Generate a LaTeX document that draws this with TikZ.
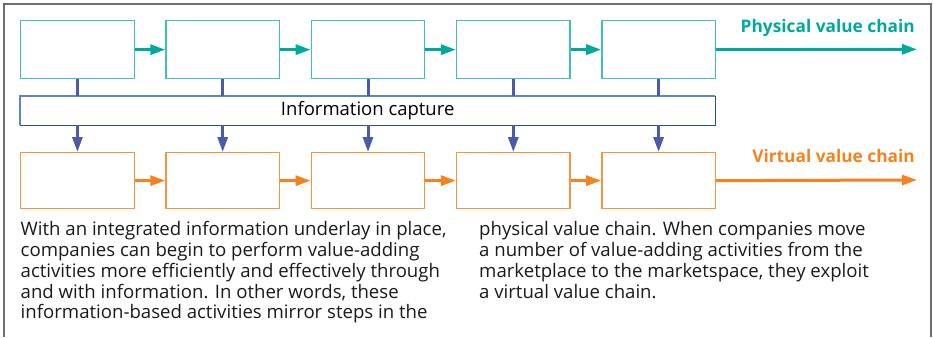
\documentclass[tikz,border=0pt]{standalone}
\usepackage{fontspec}
\setmainfont{Open Sans}
\usetikzlibrary{arrows.meta,calc}
\definecolor{frame}{HTML}{6E6E6E}
\definecolor{tealbox}{HTML}{3FC1B5}
\definecolor{tealline}{HTML}{00A99D}
\definecolor{orangebox}{HTML}{F7943F}
\definecolor{orangeline}{HTML}{F5821F}
\definecolor{bluelink}{HTML}{4A5BAA}
\definecolor{bluelight}{HTML}{5A86C6}
\definecolor{bluedark}{HTML}{2A4D9E}
\definecolor{bodytext}{HTML}{1A1A1A}
\tikzset{
  physbox/.style={draw=tealbox, line width=1.3pt, minimum width=113.5pt, minimum height=58pt, anchor=north west, inner sep=0pt},
  virtbox/.style={draw=orangebox, line width=1.3pt, minimum width=113.5pt, minimum height=56pt, anchor=north west, inner sep=0pt},
  physarrow/.style={tealline, line width=3pt, -{Triangle[length=15pt,width=10pt]}},
  virtarrow/.style={orangeline, line width=3pt, -{Triangle[length=15pt,width=10pt]}},
  infolink/.style={bluelink, line width=3pt},
  infoarrow/.style={bluelink, line width=3pt, -{Triangle[length=15pt,width=10pt]}},
  chainlabel/.style={font=\fontsize{17.3}{20}\selectfont\bfseries, anchor=base east, inner sep=0pt},
  bodycol/.style={font=\fontsize{18.6}{20.75}\selectfont, text=bodytext, align=left, anchor=north west, inner sep=0pt},
}
\begin{document}
\begin{tikzpicture}[x=1pt, y=-1pt]
\useasboundingbox (0,0) rectangle (933,337);
% outer frame, open at the bottom
\draw[frame, line width=2pt] (4,337) -- (4,4) -- (931,4) -- (931,337);

% physical and virtual value chains
\foreach \i/\x in {1/20,2/165.3,3/310.6,4/455.9,5/601.2} {
  \node[physbox] (p\i) at (\x,20) {};
  \node[virtbox] (v\i) at (\x,152) {};
}
\coordinate (pend) at (917,49.3);
\coordinate (vend) at (917,180);
\foreach \a/\b in {1/2,2/3,3/4,4/5} {
  \draw[physarrow] (p\a.east) -- (p\b.west);
  \draw[virtarrow] (v\a.east) -- (v\b.west);
}
\draw[physarrow] (p5.east) -- (pend);
\draw[virtarrow] (v5.east) -- (vend);

% information capture layer
\node[minimum width=695pt, minimum height=29pt, anchor=north west, inner sep=0pt,
      font=\fontsize{18.5}{20}\selectfont] (info) at (20,96) {Information capture};
\draw[bluelight, line width=1.3pt] (info.south west) -- (info.north west) -- (info.north east);
\draw[bluedark, line width=1.3pt] (info.north east) -- (info.south east) -- (info.south west);

\foreach \i in {1,...,5} {
  \draw[infolink] (p\i.south) -- (p\i.south |- info.north);
  \draw[infoarrow] (v\i.north |- info.south) -- (v\i.north);
}

% chain labels
\node[chainlabel, text=tealline] (plabel) at (915,33) {Physical value chain};
\node[chainlabel, text=orangeline] (vlabel) at (915,162.5) {Virtual value chain};

% body text in two columns
\node[bodycol] (colA) at (20.5,221.5) {With an integrated information underlay in place,\\
companies can begin to perform value-adding\\
activities more efficiently and effectively through\\
and with information. In other words, these\\
information-based activities mirror steps in the};
\node[bodycol] (colB) at (479,221.5) {physical value chain. When companies move\\
a number of value-adding activities from the\\
marketplace to the marketspace, they exploit\\
a virtual value chain.};
\end{tikzpicture}
\end{document}
